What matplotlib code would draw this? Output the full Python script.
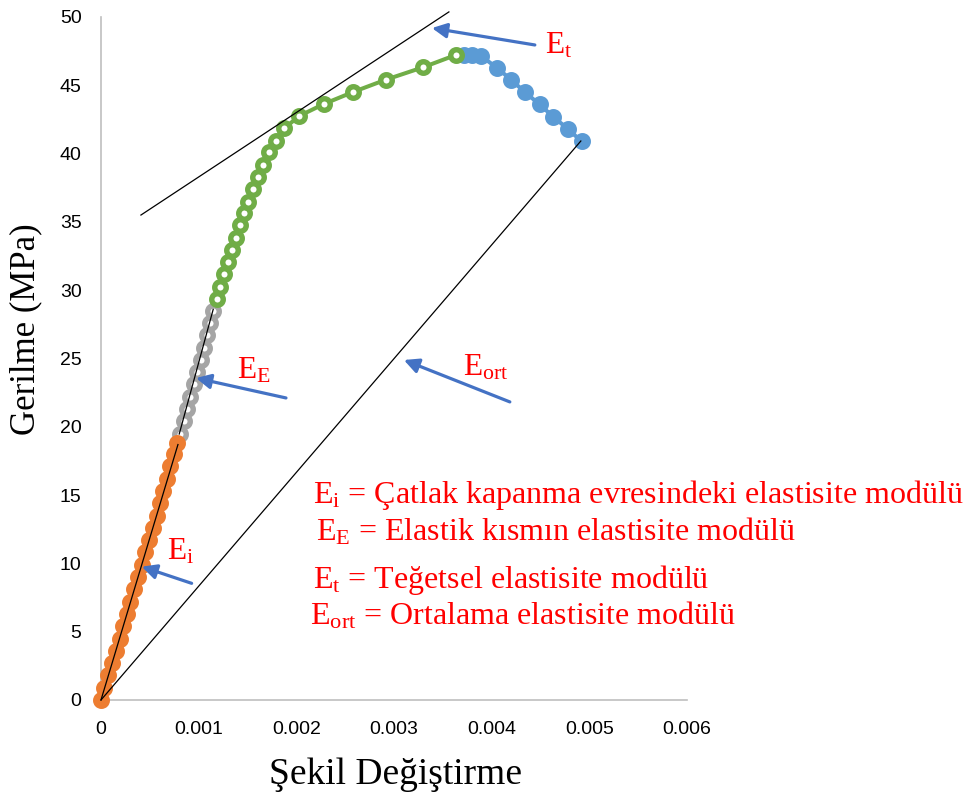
import matplotlib
matplotlib.use("Agg")
import matplotlib.pyplot as plt

plt.rcParams['mathtext.fontset'] = 'custom'
plt.rcParams['mathtext.rm'] = 'Liberation Serif'
plt.rcParams['mathtext.default'] = 'regular'

# stress-strain data, split in four phases
orange_x = [0, 0.00003, 0.00007, 0.00011, 0.00015, 0.00019, 0.00023, 0.00027, 0.00030, 0.00034, 0.00038,
            0.00042, 0.00045, 0.00049, 0.00053, 0.00057, 0.00060, 0.00064, 0.00068, 0.00071, 0.00075, 0.00078]
orange_y = [0, 0.9, 1.8, 2.7, 3.6, 4.5, 5.4, 6.3, 7.2, 8.1, 9.0,
            9.9, 10.8, 11.7, 12.6, 13.5, 14.4, 15.3, 16.2, 17.1, 18.0, 18.8]

gray_x = [0.00081, 0.000845, 0.00088, 0.000915, 0.00095, 0.000985, 0.00102, 0.001052, 0.001085, 0.001117, 0.00115]
gray_y = [19.5, 20.4, 21.3, 22.2, 23.1, 24.0, 24.9, 25.8, 26.7, 27.6, 28.5]

green_x = [0.001184, 0.001218, 0.001259, 0.001303, 0.001338, 0.001382, 0.001423, 0.001464, 0.001508, 0.001559,
           0.001604, 0.001661, 0.001723, 0.001788, 0.001876, 0.00203, 0.002282, 0.002582, 0.002917, 0.003299, 0.003634]
green_y = [29.33, 30.26, 31.16, 32.06, 32.94, 33.84, 34.75, 35.63, 36.48, 37.41,
           38.31, 39.17, 40.10, 40.94, 41.85, 42.75, 43.63, 44.51, 45.41, 46.32, 47.22]

blue_x = [0.00372, 0.0038, 0.00389, 0.00405, 0.0042, 0.00434, 0.00449, 0.00463, 0.00478, 0.00492]
blue_y = [47.2, 47.2, 47.15, 46.3, 45.4, 44.5, 43.6, 42.7, 41.8, 40.9]

# modulus lines (x pair, y pair)
line_ei = ([0, 0.000788], [0, 18.7])
line_ee = ([0.000801, 0.001149], [19.47, 28.6])
line_et = ([0.000409, 0.003562], [35.5, 50.37])
line_eort = ([0, 0.004913], [0, 40.92])

# arrows: (tail, head)
arrows = [((0.004442, 47.95), (0.003388, 49.19)),
          ((0.001894, 22.11), (0.000972, 23.57)),
          ((0.004186, 21.82), (0.003101, 24.89)),
          ((0.000928, 8.54), (0.000417, 9.76))]

labels = [(0.004545, 47.36, 'E$_{t}$'),
          (0.001392, 23.57, 'E$_{E}$'),
          (0.003705, 23.79, 'E$_{ort}$'),
          (0.000679, 10.25, 'E$_{i}$')]

notes = [(0.00217, 14.42, 'E$_{i}$ = Çatlak kapanma evresindeki elastisite modülü'),
         (0.0022, 11.71, 'E$_{E}$ = Elastik kısmın elastisite modülü'),
         (0.00217, 8.2, 'E$_{t}$ = Teğetsel elastisite modülü'),
         (0.00214, 5.56, 'E$_{ort}$ = Ortalama elastisite modülü')]

fig = plt.figure(figsize=(9.72, 7.93), dpi=100)
ax = fig.add_axes([0.1039, 0.1173, 0.6029, 0.8613])

ms = 8.3
mew = 3.9
ax.plot(gray_x, gray_y, color='#A5A5A5', lw=2.9, marker='o', ms=ms, mew=mew, mfc='white', mec='#A5A5A5', zorder=2)
ax.plot(green_x, green_y, color='#70AD47', lw=2.9, marker='o', ms=ms, mew=mew, mfc='white', mec='#70AD47', zorder=2)
ax.plot(orange_x, orange_y, color='#ED7D31', lw=2.9, marker='o', ms=ms, mew=mew, mfc='#ED7D31', mec='#ED7D31',
        zorder=3, clip_on=False)
ax.plot(blue_x, blue_y, color='#5B9BD5', lw=2.9, marker='o', ms=ms, mew=mew, mfc='#5B9BD5', mec='#5B9BD5', zorder=1)

for lx, ly in [line_ei, line_ee, line_et, line_eort]:
    ax.plot(lx, ly, color='black', lw=0.9, zorder=4, clip_on=False)

for tail, head in arrows:
    ax.annotate('', xy=head, xytext=tail,
                arrowprops=dict(arrowstyle='-|>', color='#4472C4', lw=2.3, mutation_scale=22,
                                shrinkA=0, shrinkB=0), zorder=5, annotation_clip=False)

for x, y, t in labels:
    ax.text(x, y, t, color='red', fontsize=22.5, family='Liberation Serif', va='baseline', ha='left')
for x, y, t in notes:
    ax.text(x, y, t, color='red', fontsize=23, family='Liberation Serif', va='baseline', ha='left',
            clip_on=False)

ax.set_xlim(0, 0.006)
ax.set_ylim(0, 50)
ax.set_xticks([0, 0.001, 0.002, 0.003, 0.004, 0.005, 0.006])
ax.set_xticklabels(['0', '0.001', '0.002', '0.003', '0.004', '0.005', '0.006'])
ax.set_yticks(range(0, 51, 5))
ax.tick_params(length=0, labelsize=14)
for lab in ax.get_xticklabels() + ax.get_yticklabels():
    lab.set_family('Liberation Sans')
ax.tick_params(axis='y', pad=14)
ax.tick_params(axis='x', pad=15)

for s in ['top', 'right']:
    ax.spines[s].set_visible(False)
for s in ['left', 'bottom']:
    ax.spines[s].set_color('#BFBFBF')
    ax.spines[s].set_linewidth(1.2)

ax.set_ylabel('Gerilme (MPa)', fontsize=25, family='Liberation Serif')
ax.set_xlabel('Şekil Değiştirme', fontsize=27, family='Liberation Serif')
ax.yaxis.set_label_coords(-0.1007, 0.543)
ax.xaxis.set_label_coords(0.502, -0.084)

fig.savefig('out.png', dpi=100)
